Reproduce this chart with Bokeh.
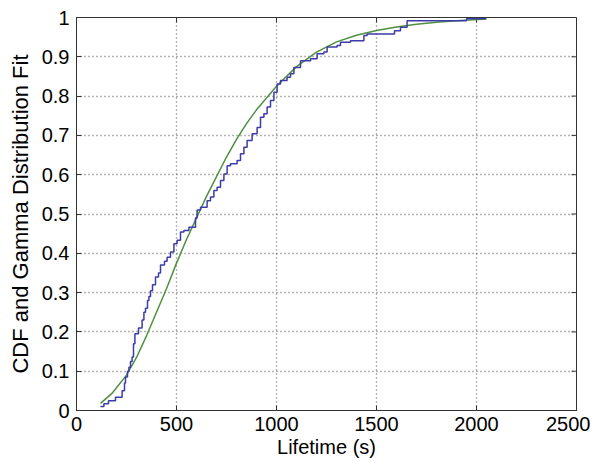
from bokeh.plotting import figure
from bokeh.models import Range1d, FixedTicker
from bokeh.embed import file_html
from bokeh.resources import INLINE

cdf_x = [120, 137, 160, 195, 228, 240, 245, 255, 262, 270, 278, 285, 292, 310, 328,
         337, 345, 355, 362, 370, 380, 395, 410, 420, 440, 453, 470, 487, 503, 520,
         537, 562, 595, 603, 620, 653, 670, 687, 703, 720, 737, 753, 770, 803, 820,
         837, 853, 878, 903, 920, 937, 953, 970, 987, 1003, 1020, 1053, 1070, 1087,
         1120, 1170, 1203, 1237, 1253, 1303, 1320, 1370, 1437, 1453, 1590, 1620,
         1653, 1950, 2045]
cdf_y = [0.01, 0.017, 0.025, 0.034, 0.05, 0.07, 0.085, 0.10, 0.11, 0.125, 0.136, 0.17,
         0.195, 0.21, 0.23, 0.25, 0.26, 0.28, 0.29, 0.305, 0.32, 0.34, 0.35, 0.37, 0.38,
         0.39, 0.403, 0.424, 0.433, 0.454, 0.458, 0.466, 0.49, 0.51, 0.517, 0.534,
         0.543, 0.56, 0.568, 0.585, 0.602, 0.623, 0.628, 0.636, 0.653, 0.67, 0.687,
         0.704, 0.72, 0.746, 0.755, 0.772, 0.789, 0.81, 0.831, 0.84, 0.848, 0.857,
         0.873, 0.89, 0.895, 0.908, 0.912, 0.925, 0.929, 0.937, 0.941, 0.954, 0.958,
         0.966, 0.975, 0.992, 0.997, 1.0]

# Gamma distribution fit
fit_x = [120, 180, 250, 300, 350, 400, 450, 500, 550, 600, 650, 700, 750, 800, 850,
         900, 950, 1000, 1100, 1200, 1300, 1400, 1500, 1600, 1700, 1800, 1900, 2050]
fit_y = [0.018, 0.045, 0.09, 0.135, 0.19, 0.25, 0.31, 0.375, 0.435, 0.49, 0.545,
         0.595, 0.645, 0.69, 0.73, 0.765, 0.795, 0.825, 0.875, 0.912, 0.938, 0.955,
         0.967, 0.976, 0.983, 0.988, 0.992, 0.996]

x_ticks = [0, 500, 1000, 1500, 2000, 2500]
y_ticks = [0, 0.1, 0.2, 0.3, 0.4, 0.5, 0.6, 0.7, 0.8, 0.9, 1]
y_tick_labels = ["0", "0.1", "0.2", "0.3", "0.4", "0.5", "0.6", "0.7", "0.8", "0.9", "1"]

FONT = "Liberation Sans"
X0, X1, Y0, Y1 = 0, 2500, 0, 1
FRAME_W, FRAME_H = 500, 393
BL, BR, BT, BB = 76, 14, 17, 52

p = figure(width=BL + FRAME_W + BR, height=BT + FRAME_H + BB,
           output_backend="svg", toolbar_location=None,
           x_range=Range1d(X0, X1), y_range=Range1d(Y0, Y1),
           min_border_left=BL, min_border_right=BR, min_border_top=BT, min_border_bottom=BB)
p.background_fill_color = "white"
p.border_fill_color = "white"
p.outline_line_color = "#333333"
p.outline_line_width = 1

# grid
for g in (p.xgrid, p.ygrid):
    g.grid_line_color = "#666666"
    g.grid_line_dash = "1 3"
    g.grid_line_width = 1.3
p.xgrid.ticker = FixedTicker(ticks=x_ticks)
p.ygrid.ticker = FixedTicker(ticks=y_ticks)

# main axes
p.xaxis.ticker = FixedTicker(ticks=x_ticks)
p.yaxis.ticker = FixedTicker(ticks=y_ticks)
p.yaxis.major_label_overrides = {t: l for t, l in zip(y_ticks, y_tick_labels)}
p.xaxis.axis_label = "Lifetime (s)"
p.yaxis.axis_label = "CDF and Gamma Distribution Fit"
for ax in (p.xaxis, p.yaxis):
    ax.axis_line_color = "#333333"
    ax.major_tick_line_color = "#333333"
    ax.major_tick_in = 5
    ax.major_tick_out = 0
    ax.minor_tick_line_color = None
    ax.major_label_text_font = FONT
    ax.major_label_text_font_size = "20px"
    ax.major_label_text_color = "black"
    ax.axis_label_text_font = FONT
    ax.axis_label_text_font_style = "normal"
    ax.axis_label_text_color = "black"
p.xaxis.axis_label_text_font_size = "20px"
p.yaxis.axis_label_text_font_size = "22px"
p.xaxis.major_label_standoff = 6
p.yaxis.major_label_standoff = 7
p.xaxis.axis_label_standoff = 2
p.yaxis.axis_label_standoff = 6

# inward box ticks on the top and right edges (MATLAB style)
tx = 5 * (X1 - X0) / FRAME_W
ty = 5 * (Y1 - Y0) / FRAME_H
p.segment(x0=x_ticks, y0=[Y1] * len(x_ticks), x1=x_ticks, y1=[Y1 - ty] * len(x_ticks),
          line_color="#333333", line_width=1)
p.segment(x0=[X1] * len(y_ticks), y0=y_ticks, x1=[X1 - tx] * len(y_ticks), y1=y_ticks,
          line_color="#333333", line_width=1)

p.line(fit_x, fit_y, line_color="#4f9040", line_width=1.5)
p.step(cdf_x, cdf_y, mode="after", line_color="#3c3ca8", line_width=1.5)

open("out.html", "w").write(file_html(p, INLINE))
